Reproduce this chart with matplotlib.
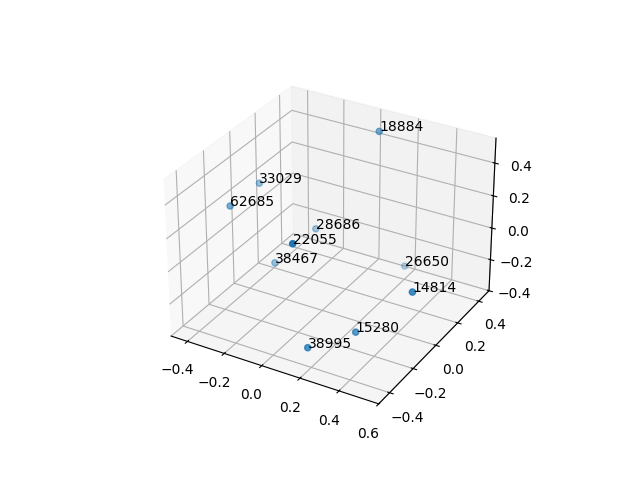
import matplotlib
matplotlib.use("Agg")
import matplotlib.pyplot as plt

labels = ["18884", "33029", "62685", "28686", "22055", "38467", "26650", "14814", "15280", "38995"]
xs = [0.076, -0.445, -0.436, -0.189, 0.108, -0.289, 0.166, 0.534, 0.302, 0.156]
ys = [0.361, 0.158, -0.088, 0.24, -0.397, 0.046, 0.461, -0.106, -0.197, -0.36]
zs = [0.513, 0.154, 0.165, -0.102, 0.313, -0.228, -0.366, -0.02, -0.288, -0.323]

fig = plt.figure()
ax = fig.add_subplot(projection="3d")
ax.scatter(xs, ys, zs)
for x, y, z, label in zip(xs, ys, zs, labels):
    ax.text(x, y, z, label)

ax.set_xlim(-0.49, 0.6)
ax.set_ylim(-0.49, 0.5)
ax.set_zlim(-0.4, 0.55)
fig.savefig("out.png", dpi=100)
